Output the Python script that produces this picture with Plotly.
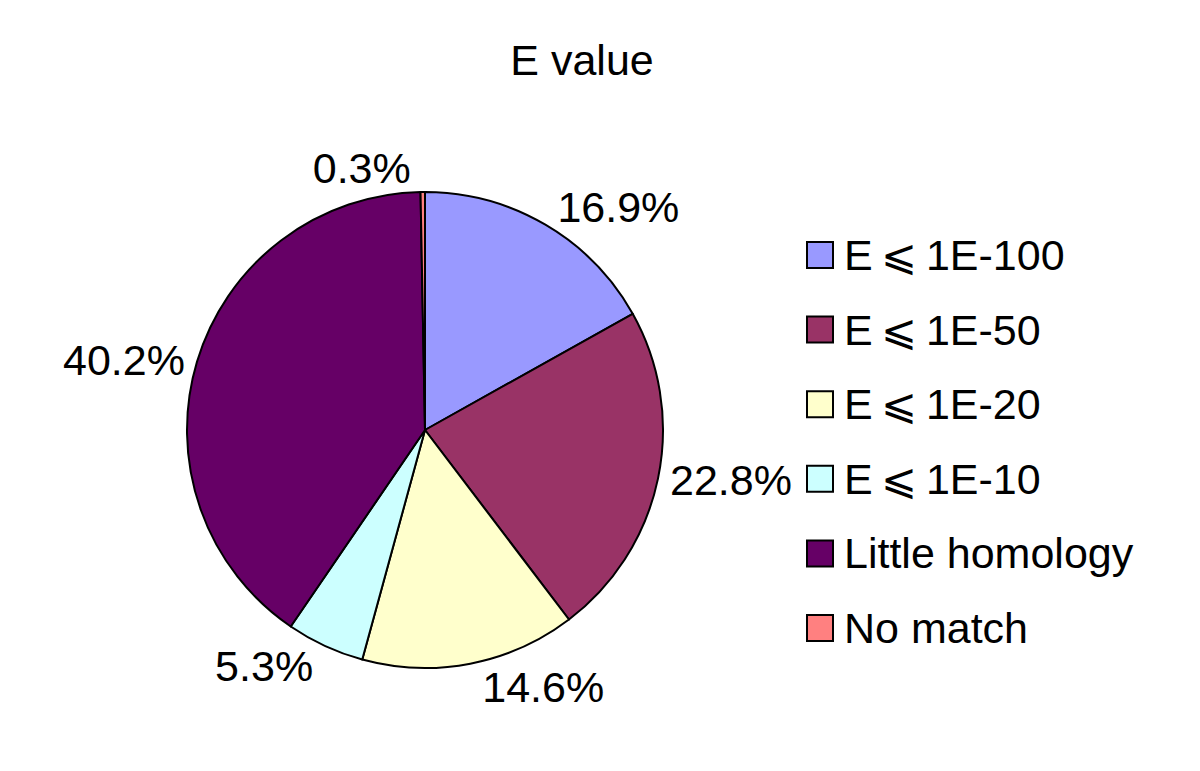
import plotly.graph_objects as go

# slice data, clockwise from 12 o'clock
labels = ["E\u2009\u2a7d\u20091E-100", "E\u2009\u2a7d\u20091E-50", "E\u2009\u2a7d\u20091E-20",
          "E\u2009\u2a7d\u20091E-10", "Little homology", "No match"]
shares = [16.9, 22.8, 14.6, 5.3, 40.2, 0.3]
colors = ["#9999FF", "#993366", "#FFFFCC", "#CCFFFF", "#660066", "#FF8080"]

W, H = 1200, 771
OFF = 8  # page body margin around the plot div
FONT = "Liberation Sans, Arial, sans-serif"
FS = 43

fig = go.Figure()
fig.add_trace(
    go.Pie(
        labels=labels,
        values=shares,
        text=[f"{v:.1f}%" for v in shares],
        textinfo="text",
        textposition="outside",
        textfont=dict(family=FONT, size=FS, color="black"),
        marker=dict(colors=colors, line=dict(color="black", width=2)),
        sort=False,
        direction="clockwise",
        rotation=0,
        showlegend=False,
        hoverinfo="label+text",
        domain=dict(x=[(187 - OFF) / W, (663 - OFF) / W],
                    y=[(H - 668 + OFF) / H, (H - 192 + OFF) / H]),
    )
)

# legend drawn as big square swatches like the original
shapes = []
annotations = []
x0, y0, step, box = 807 - OFF, 255 - OFF, 74.6, 26
for i, (lab, col) in enumerate(zip(labels, colors)):
    yc = y0 + i * step
    shapes.append(dict(
        type="rect", xref="paper", yref="paper",
        x0=x0 / W, x1=(x0 + box) / W,
        y0=(H - yc - box / 2) / H, y1=(H - yc + box / 2) / H,
        fillcolor=col, line=dict(color="black", width=2),
    ))
    annotations.append(dict(
        xref="paper", yref="paper", x=(x0 + box + 9) / W, y=(H - yc) / H,
        xanchor="left", yanchor="middle", showarrow=False, text=lab,
        font=dict(family=FONT, size=FS, color="black"),
    ))

fig.update_layout(
    width=W,
    height=H,
    margin=dict(l=0, r=0, t=0, b=0),
    paper_bgcolor="white",
    plot_bgcolor="white",
    title=dict(text="E value", x=(582 - OFF) / W, xanchor="center",
               y=1 - (60 - OFF) / H, yanchor="middle",
               font=dict(family=FONT, size=FS, color="black")),
    shapes=shapes,
    annotations=annotations,
)

fig.write_html("out.html")
